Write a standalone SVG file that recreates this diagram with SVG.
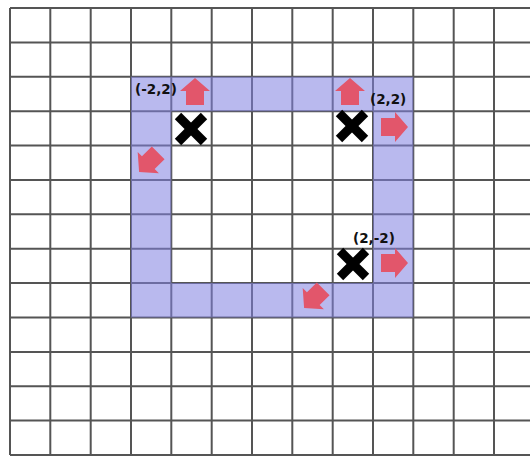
<svg xmlns="http://www.w3.org/2000/svg" width="530" height="458" viewBox="0 0 530 458">
<style>
.grid line{stroke:#555;stroke-width:2}
.lbl{font-family:"DejaVu Sans",sans-serif;font-weight:bold;font-size:13.5px;fill:#111}
.arrow{fill:#e2566b}
.x{stroke:#000;stroke-width:9;stroke-linecap:butt}
</style>
<defs>
<path id="arr" class="arrow" d="M0,-14 L15,-1 L9,-1 L9,13 L-9,13 L-9,-1 L-15,-1 Z"/>
<g id="xm"><line class="x" x1="-13" y1="-13" x2="13" y2="13"/><line class="x" x1="-13" y1="13" x2="13" y2="-13"/></g>
</defs>
<rect width="530" height="458" fill="#fff"/>
<g class="grid" id="grid">
<line x1="10" y1="8" x2="10" y2="455"/><line x1="50.3" y1="8" x2="50.3" y2="455"/><line x1="90.7" y1="8" x2="90.7" y2="455"/><line x1="131" y1="8" x2="131" y2="455"/><line x1="171.3" y1="8" x2="171.3" y2="455"/><line x1="211.7" y1="8" x2="211.7" y2="455"/><line x1="252" y1="8" x2="252" y2="455"/><line x1="292.3" y1="8" x2="292.3" y2="455"/><line x1="332.7" y1="8" x2="332.7" y2="455"/><line x1="373" y1="8" x2="373" y2="455"/><line x1="413.3" y1="8" x2="413.3" y2="455"/><line x1="453.7" y1="8" x2="453.7" y2="455"/><line x1="494" y1="8" x2="494" y2="455"/>
<line x1="10" y1="8" x2="530" y2="8"/><line x1="10" y1="42.4" x2="530" y2="42.4"/><line x1="10" y1="76.8" x2="530" y2="76.8"/><line x1="10" y1="111.2" x2="530" y2="111.2"/><line x1="10" y1="145.5" x2="530" y2="145.5"/><line x1="10" y1="179.9" x2="530" y2="179.9"/><line x1="10" y1="214.3" x2="530" y2="214.3"/><line x1="10" y1="248.7" x2="530" y2="248.7"/><line x1="10" y1="283.1" x2="530" y2="283.1"/><line x1="10" y1="317.5" x2="530" y2="317.5"/><line x1="10" y1="351.9" x2="530" y2="351.9"/><line x1="10" y1="386.3" x2="530" y2="386.3"/><line x1="10" y1="420.6" x2="530" y2="420.6"/><line x1="10" y1="455" x2="530" y2="455"/>
</g>
<path id="ring" d="M131,76.8 H413.3 V317.5 H131 Z M171.3,111.2 V283.1 H373 V111.2 Z" fill="#8080e0" fill-opacity="0.55" fill-rule="evenodd"/>
<g id="marks">
<use href="#xm" x="191" y="129"/>
<use href="#xm" x="352" y="126"/>
<use href="#xm" x="353" y="264"/>
</g>
<g id="arrows">
<use href="#arr" transform="translate(195,92)"/>
<use href="#arr" transform="translate(350,92)"/>
<use href="#arr" transform="translate(394,127) rotate(90)"/>
<use href="#arr" transform="translate(394,263) rotate(90)"/>
<use href="#arr" transform="translate(149,162) rotate(-135)"/>
<use href="#arr" transform="translate(314,298) rotate(-135)"/>
</g>
<g id="labels">
<text class="lbl" x="135" y="94">(-2,2)</text>
<text class="lbl" x="370" y="104">(2,2)</text>
<text class="lbl" x="353" y="243">(2,-2)</text>
</g>
</svg>
